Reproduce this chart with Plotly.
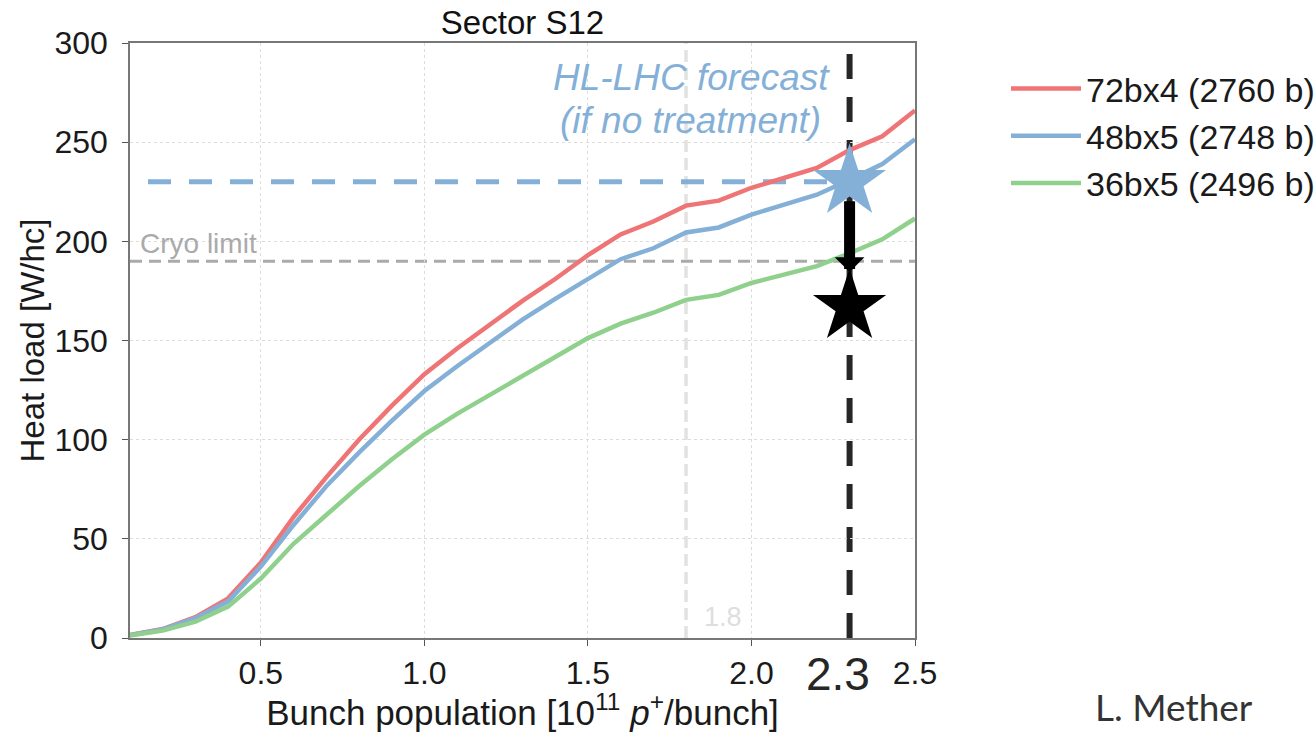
import plotly.graph_objects as go

# ---------------- data ----------------
bunch_population = [0.1, 0.2, 0.3, 0.4, 0.5, 0.6, 0.7, 0.8, 0.9, 1.0,
                    1.1, 1.2, 1.3, 1.4, 1.5, 1.6, 1.7, 1.8, 1.9, 2.0,
                    2.1, 2.2, 2.3, 2.4, 2.5]
heat_72bx4 = [1.5, 4.5, 10.5, 20.0, 38.0, 61.0, 81.0, 100.0, 117.0, 133.0,
              146.0, 158.0, 170.0, 181.0, 193.0, 203.5, 210.0, 218.0, 220.5, 227.0,
              232.0, 237.0, 246.0, 253.0, 266.0]
heat_48bx5 = [1.5, 4.3, 10.0, 18.5, 36.0, 57.0, 76.5, 93.5, 109.5, 124.5,
              137.0, 149.0, 160.5, 171.0, 181.0, 191.0, 196.5, 204.5, 207.0, 213.5,
              218.5, 223.5, 231.0, 239.0, 251.5]
heat_36bx5 = [1.2, 3.7, 8.2, 15.8, 30.0, 47.5, 62.0, 76.5, 90.0, 102.5,
              113.0, 122.5, 132.5, 142.0, 151.2, 158.5, 164.0, 170.5, 173.0, 179.0,
              183.0, 187.5, 194.0, 201.0, 211.5]
series_names = ["72bx4 (2760 b)", "48bx5 (2748 b)", "36bx5 (2496 b)"]
series_values = [heat_72bx4, heat_48bx5, heat_36bx5]
series_colors = ["#ef7475", "#84b0d8", "#8fd18c"]

cryo_limit = 190
lhc_population = 1.8
hl_lhc_population = 2.3
hl_lhc_forecast = 230
hl_lhc_treated = 167
forecast_line_start = 0.155
arrow_tail = 221
arrow_tip = 184.5

x_ticks = [0.5, 1.0, 1.5, 2.0, 2.5]
x_tick_text = ["0.5", "1.0", "1.5", "2.0", "2.5"]
y_ticks = [0, 50, 100, 150, 200, 250, 300]

FONT = "Liberation Sans, Arial, Helvetica, sans-serif"
BLUE = "#84b0d8"

fig = go.Figure()

for name, vals, col in zip(series_names, series_values, series_colors):
    fig.add_trace(go.Scatter(x=bunch_population, y=vals, mode="lines", name=name,
                             line=dict(color=col, width=4.5)))

fig.add_trace(go.Scatter(x=[hl_lhc_population], y=[hl_lhc_forecast], mode="markers",
                         marker=dict(symbol="star", size=55, color=BLUE, line=dict(width=0)),
                         showlegend=False, hoverinfo="skip"))
fig.add_trace(go.Scatter(x=[hl_lhc_population], y=[hl_lhc_treated], mode="markers",
                         marker=dict(symbol="star", size=55, color="black", line=dict(width=0)),
                         showlegend=False, hoverinfo="skip"))

# reference lines
fig.add_shape(type="line", xref="x", yref="y", x0=0.1, x1=2.5, y0=cryo_limit, y1=cryo_limit,
              line=dict(color="#aaaaaa", width=3, dash="12px,7px"), layer="below")
fig.add_shape(type="line", xref="x", yref="y", x0=lhc_population, x1=lhc_population, y0=0, y1=300,
              line=dict(color="#e2e2e2", width=3.5, dash="12px,6px"), layer="below")
fig.add_shape(type="line", xref="x", yref="y", x0=forecast_line_start, x1=hl_lhc_population,
              y0=hl_lhc_forecast, y1=hl_lhc_forecast,
              line=dict(color=BLUE, width=5, dash="23px,18px"), layer="below")
fig.add_shape(type="line", xref="x", yref="y", x0=hl_lhc_population, x1=hl_lhc_population,
              y0=0, y1=299,
              line=dict(color="#262626", width=6, dash="25px,18px"), layer="below")

annotations = [
    dict(x=hl_lhc_population, y=arrow_tip, ax=hl_lhc_population, ay=arrow_tail,
         xref="x", yref="y", axref="x", ayref="y", text="", showarrow=True,
         arrowhead=1, arrowwidth=11, arrowsize=0.45, arrowcolor="black"),
    dict(x=0.1, y=cryo_limit, xref="x", yref="y", text="Cryo limit", showarrow=False,
         xanchor="left", yanchor="bottom", xshift=8, yshift=0,
         font=dict(family=FONT, size=28, color="#aaaaaa")),
    dict(x=lhc_population, y=0, xref="x", yref="y", text="1.8", showarrow=False,
         xanchor="left", yanchor="bottom", xshift=16, yshift=4,
         font=dict(family=FONT, size=27, color="#dedede")),
    dict(x=lhc_population, y=282.5, xref="x", yref="y", text="<i>HL-LHC forecast</i>",
         showarrow=False, xanchor="center", yanchor="middle", xshift=5,
         font=dict(family=FONT, size=37, color=BLUE)),
    dict(x=lhc_population, y=261, xref="x", yref="y", text="<i>(if no treatment)</i>",
         showarrow=False, xanchor="center", yanchor="middle", xshift=4,
         font=dict(family=FONT, size=37, color=BLUE)),
    dict(x=hl_lhc_population, y=0, xref="x", yref="paper", text="2.3", showarrow=False,
         xanchor="center", yanchor="top", xshift=-12, yshift=-8,
         font=dict(family=FONT, size=46, color="#262626")),
    dict(x=1.33, y=(638 - 731) / 595, xref="paper", yref="paper", text="L. Mether", showarrow=False,
         xanchor="center", yanchor="bottom",
         font=dict(family="Lato, Open Sans, sans-serif", size=37, color="#333333")),
]

fig.update_layout(
    width=1314, height=732,
    margin=dict(l=130, r=399, t=43, b=94, autoexpand=False),
    plot_bgcolor="white", paper_bgcolor="white",
    font=dict(family=FONT, color="#1a1a1a"),
    title=dict(text="Sector S12", x=0.5, xref="paper", y=1 - 22 / 732, yref="container",
               xanchor="center", yanchor="middle", font=dict(family=FONT, size=33, color="#111111")),
    xaxis=dict(range=[0.1, 2.5], tickvals=x_ticks, ticktext=x_tick_text,
               tickfont=dict(size=32, color="#1a1a1a"),
               showline=True, linecolor="#777777", linewidth=1.5, mirror=True,
               ticks="outside", ticklen=6, tickcolor="#555555",
               showgrid=True, gridcolor="#dcdcdc", griddash="dot", gridwidth=1, zeroline=False,
               title=dict(text="Bunch population [10<sup>11</sup> <i>p</i><sup>+</sup>/bunch]",
                          font=dict(size=35, color="#1a1a1a"), standoff=4)),
    yaxis=dict(range=[0, 300], tickvals=y_ticks,
               tickfont=dict(size=32, color="#1a1a1a"),
               showline=True, linecolor="#777777", linewidth=1.5, mirror=True,
               ticks="outside", ticklen=6, tickcolor="#555555", ticklabelstandoff=8,
               showgrid=True, gridcolor="#dcdcdc", griddash="dot", gridwidth=1, zeroline=False,
               title=dict(text="Heat load [W/hc]", font=dict(size=33, color="#1a1a1a"), standoff=0)),
    legend=dict(x=(1006 - 130) / 785, y=(638 - 60) / 595, xanchor="left", yanchor="top",
                font=dict(family=FONT, size=34, color="#1a1a1a"), itemwidth=70,
                bgcolor="rgba(0,0,0,0)"),
    annotations=annotations,
    showlegend=True,
)

fig.write_html("out.html")
